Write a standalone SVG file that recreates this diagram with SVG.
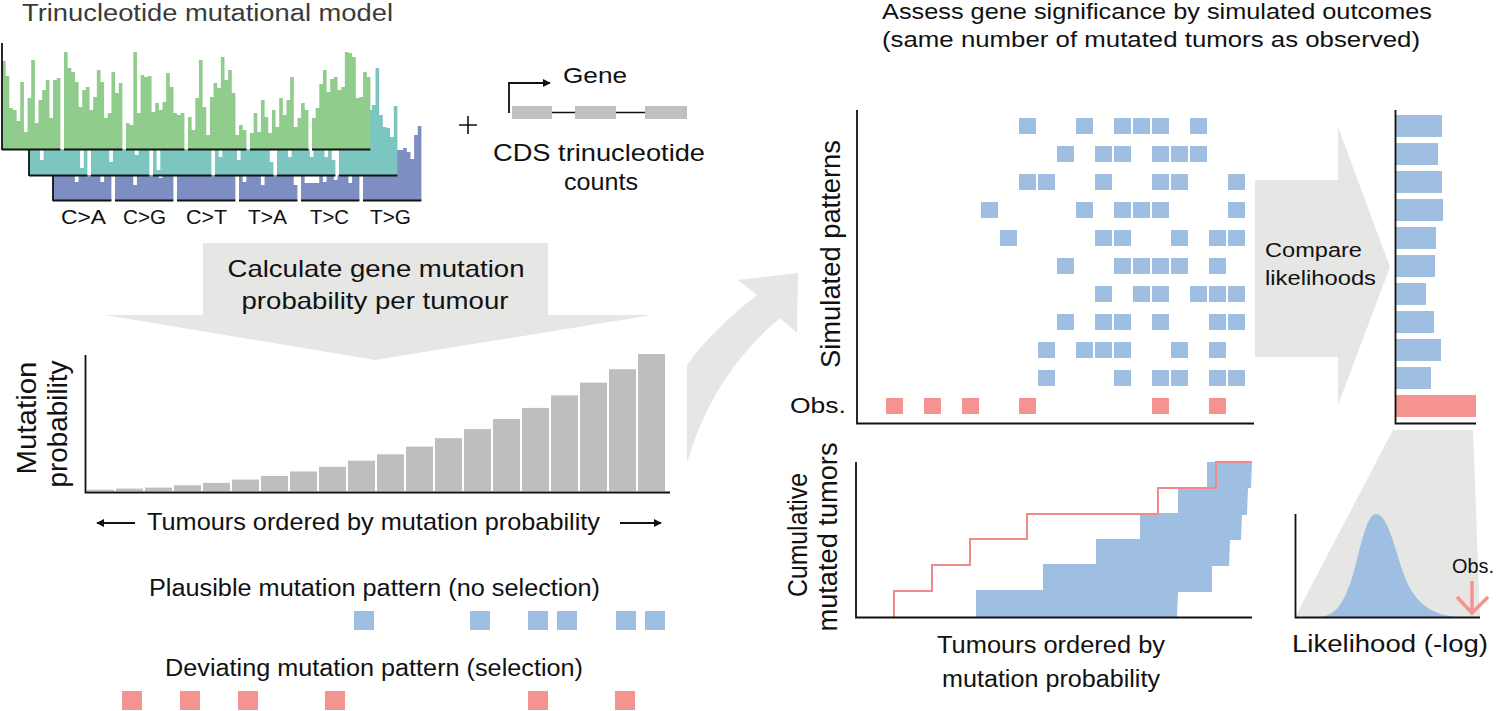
<svg xmlns="http://www.w3.org/2000/svg" width="1499" height="711" viewBox="0 0 1499 711">
<style>
.t{font-family:"Liberation Sans",Arial,sans-serif;fill:#111}
.ax{stroke:#111;stroke-width:1.8;fill:none}
.sim{fill:#9ebfe2}
.obs{fill:#f49390}
.gbar{fill:#bcbebf}
.arrowfill{fill:#e6e6e5}
</style>
<defs>
<marker id="ah" viewBox="0 0 10 10" refX="9" refY="5" markerWidth="8" markerHeight="8" markerUnits="userSpaceOnUse" orient="auto"><path d="M0,0 L10,5 L0,10 Z" fill="#111"/></marker>
</defs>
<rect width="1499" height="711" fill="#fff"/>

<g id="connectors">
<polygon class="arrowfill" points="203,243 548,243 548,315 652,315 375,360 105,315 203,315"/>
<path class="arrowfill" d="M687,463 L687,365 Q712,330 757,295 L738,280 L798,273 L797,333 L780,318 Q712,375 687,463 Z"/>
<polygon class="arrowfill" points="1255,180 1338,180 1338,127 1390,267 1338,405 1338,357 1255,357"/>
<polygon class="arrowfill" points="1393,430 1473,430 1480,617 1295,617"/>
</g>

<g id="trinucleotide-model">
<text class="t" x="22" y="21" font-size="23" textLength="371" lengthAdjust="spacingAndGlyphs" style="fill:#3a3a3a">Trinucleotide mutational model</text>
<path fill="#7d8fc2" d="M53,200.5 V175 h21.9 V182 h3.65 V175 h21.9 V182 h3.65 V175 h7.3 V200.5 h3.6 V175 h18.25 V185 h3.65 V175 h21.9 V178 h3.65 V175 h10.95 V200.5 h3.6 V175 h58.4 V200.5 h3.6 V175 h3.65 V182 h3.65 V175 h14.6 V185 h3.65 V175 h29.2 V185 h3.65 V200.5 h3.6 V175 h3.65 V183 h14.6 V175 h3.65 V182 h3.65 V175 h7.3 V180 h3.65 V175 h10.95 V183 h3.65 V175 h7.3 V200.5 h3.6 V175 h32.85 V150 h7.3 V148 h3.65 V152 h3.65 V159 h3.65 V135 h3.65 V126 h3.65 V200.5 Z"/>
<path fill="#7cc6c1" d="M29,175.5 V149 h10.95 V160 h3.65 V149 h36.5 V168 h3.65 V149 h3.65 V175.5 h3.6 V149 h18.25 V162 h3.65 V149 h21.9 V155 h3.65 V149 h10.95 V175.5 h3.6 V149 h3.65 V170 h3.65 V149 h51.1 V175.5 h3.6 V149 h3.65 V157 h3.65 V149 h14.6 V160 h3.65 V149 h29.2 V162 h3.65 V175.5 h3.6 V149 h10.95 V157 h3.65 V149 h18.25 V157 h3.65 V149 h10.95 V157 h3.65 V149 h3.65 V160 h3.65 V175.5 h3.6 V149 h29.2 V110 h3.65 V105 h3.65 V68 h3.65 V115 h3.65 V127 h3.65 V128 h3.65 V137 h3.65 V106 h3.65 V175.5 Z"/>
<path fill="#90cc8b" d="M2,149.5 V61 h3.65 V76 h3.65 V108 h3.65 V110 h3.65 V121 h3.65 V82 h3.65 V132 h3.65 V98 h3.65 V60 h3.65 V123 h3.65 V100 h3.65 V90 h3.65 V80 h3.65 V118 h3.65 V80 h3.65 V78 h3.65 V149.5 h3.6 V52 h3.65 V68 h3.65 V72 h3.65 V82 h3.65 V107 h3.65 V90 h3.65 V87 h3.65 V110 h3.65 V97 h3.65 V70 h3.65 V82 h3.65 V118 h3.65 V113 h3.65 V72 h3.65 V93 h3.65 V83 h3.65 V149.5 h3.6 V123 h3.65 V125 h3.65 V52 h3.65 V113 h3.65 V75 h3.65 V77 h3.65 V76 h3.65 V112 h3.65 V103 h3.65 V110 h3.65 V102 h3.65 V73 h3.65 V87 h3.65 V113 h3.65 V115 h3.65 V113 h3.65 V149.5 h3.6 V117 h3.65 V130 h3.65 V98 h3.65 V60 h3.65 V107 h3.65 V135 h3.65 V97 h3.65 V83 h3.65 V88 h3.65 V57 h3.65 V80 h3.65 V70 h3.65 V93 h3.65 V135 h3.65 V125 h3.65 V130 h3.65 V149.5 h3.6 V133 h3.65 V113 h3.65 V132 h3.65 V100 h3.65 V117 h3.65 V133 h3.65 V110 h3.65 V127 h3.65 V98 h3.65 V115 h3.65 V100 h3.65 V77 h3.65 V127 h3.65 V118 h3.65 V103 h3.65 V110 h3.65 V149.5 h3.6 V118 h3.65 V108 h3.65 V84 h3.65 V70 h3.65 V92 h3.65 V79 h3.65 V77 h3.65 V90 h3.65 V87 h3.65 V52 h3.65 V53 h3.65 V57 h3.65 V98 h3.65 V97 h3.65 V72 h3.65 V77 h3.65 V149.5 Z"/>
<path class="ax" d="M2,43 V150 M2,149.5 H60.4 M64,149.5 H122.4 M126,149.5 H184.4 M188,149.5 H246.4 M250,149.5 H308.4 M312,149.5 H370.4 M29,149 V176 M29,175.5 H87.4 M91,175.5 H149.4 M153,175.5 H211.4 M215,175.5 H273.4 M277,175.5 H335.4 M339,175.5 H397.4 M53,175 V201 M53,200.5 H111.4 M115,200.5 H173.4 M177,200.5 H235.4 M239,200.5 H297.4 M301,200.5 H359.4 M363,200.5 H421.4"/>
<g class="t" font-size="20.5">
<text x="61" y="224" textLength="45" lengthAdjust="spacingAndGlyphs">C&gt;A</text>
<text x="123" y="224" textLength="43" lengthAdjust="spacingAndGlyphs">C&gt;G</text>
<text x="186" y="224" textLength="41" lengthAdjust="spacingAndGlyphs">C&gt;T</text>
<text x="248" y="224" textLength="39" lengthAdjust="spacingAndGlyphs">T&gt;A</text>
<text x="310" y="224" textLength="39" lengthAdjust="spacingAndGlyphs">T&gt;C</text>
<text x="370" y="224" textLength="41" lengthAdjust="spacingAndGlyphs">T&gt;G</text>
</g>
</g>

<g id="gene">
<path d="M459,125 H477 M468,116 V134" stroke="#111" stroke-width="1.6"/>
<path d="M509,113 V83 H550" class="ax" stroke-width="1.6" marker-end="url(#ah)"/>
<text class="t" x="563" y="83" font-size="22" textLength="64" lengthAdjust="spacingAndGlyphs">Gene</text>
<path d="M552,112.5 H575 M616,112.5 H645" stroke="#111" stroke-width="1.5"/>
<rect x="512" y="106" width="40" height="13" fill="#c0c0c0"/>
<rect x="575" y="106" width="41" height="13" fill="#c0c0c0"/>
<rect x="645" y="106" width="42" height="13" fill="#c0c0c0"/>
<text class="t" x="493" y="161" font-size="24" textLength="212" lengthAdjust="spacingAndGlyphs">CDS trinucleotide</text>
<text class="t" x="601" y="190" font-size="24" text-anchor="middle" textLength="74" lengthAdjust="spacingAndGlyphs">counts</text>
</g>

<g id="calc-label">
<text class="t" x="376" y="277" font-size="24" text-anchor="middle" textLength="297" lengthAdjust="spacingAndGlyphs">Calculate gene mutation</text>
<text class="t" x="375" y="309" font-size="24" text-anchor="middle" textLength="267" lengthAdjust="spacingAndGlyphs">probability per tumour</text>
</g>

<g id="probability-chart">
<g class="gbar">
<rect x="87" y="489.7" width="27" height="1.3"/>
<rect x="116" y="488.6" width="27" height="2.4"/>
<rect x="145" y="487.6" width="27" height="3.4"/>
<rect x="174" y="485.3" width="27" height="5.7"/>
<rect x="203" y="482.9" width="27" height="8.1"/>
<rect x="232" y="479.6" width="27" height="11.4"/>
<rect x="261" y="475.9" width="27" height="15.1"/>
<rect x="290" y="471.5" width="27" height="19.5"/>
<rect x="319" y="466.8" width="27" height="24.2"/>
<rect x="348" y="460.7" width="27" height="30.3"/>
<rect x="377" y="454.3" width="27" height="36.7"/>
<rect x="406" y="446.6" width="27" height="44.4"/>
<rect x="435" y="438.2" width="27" height="52.8"/>
<rect x="464" y="429.1" width="27" height="61.9"/>
<rect x="493" y="419" width="27" height="72"/>
<rect x="522" y="407.9" width="27" height="83.1"/>
<rect x="551" y="395.4" width="27" height="95.6"/>
<rect x="580" y="382.6" width="27" height="108.4"/>
<rect x="609" y="369.2" width="27" height="121.8"/>
<rect x="638" y="354" width="27" height="137"/>
</g>
<path class="ax" d="M85.5,355 V492.5 H670"/>
<text class="t" font-size="28" text-anchor="middle" transform="translate(36,418) rotate(-90)" textLength="113" lengthAdjust="spacingAndGlyphs">Mutation</text>
<text class="t" font-size="27" text-anchor="middle" transform="translate(67,424) rotate(-90)" textLength="127" lengthAdjust="spacingAndGlyphs">probability</text>
<path d="M135,523 H97" class="ax" stroke-width="1.6" marker-end="url(#ah)"/>
<path d="M620,523 H661" class="ax" stroke-width="1.6" marker-end="url(#ah)"/>
<text class="t" x="147" y="530" font-size="24" textLength="453" lengthAdjust="spacingAndGlyphs">Tumours ordered by mutation probability</text>
</g>

<g id="plausible-pattern">
<text class="t" x="149" y="596" font-size="23" textLength="451" lengthAdjust="spacingAndGlyphs">Plausible mutation pattern (no selection)</text>
<g class="sim">
<rect x="354" y="611" width="20" height="19"/><rect x="470" y="611" width="20" height="19"/><rect x="528" y="611" width="20" height="19"/><rect x="557" y="611" width="20" height="19"/><rect x="616" y="611" width="20" height="19"/><rect x="645" y="611" width="20" height="19"/>
</g>
</g>

<g id="deviating-pattern">
<text class="t" x="165" y="676" font-size="23" textLength="418" lengthAdjust="spacingAndGlyphs">Deviating mutation pattern (selection)</text>
<g class="obs">
<rect x="122" y="691" width="20" height="19"/><rect x="180" y="691" width="20" height="19"/><rect x="238" y="691" width="20" height="19"/><rect x="325" y="691" width="20" height="19"/><rect x="528" y="691" width="20" height="19"/><rect x="615" y="691" width="20" height="19"/>
</g>
</g>

<g id="assess-title">
<text class="t" x="882" y="19" font-size="22" textLength="550" lengthAdjust="spacingAndGlyphs">Assess gene significance by simulated outcomes</text>
<text class="t" x="882" y="47" font-size="22" textLength="538" lengthAdjust="spacingAndGlyphs">(same number of mutated tumors as observed)</text>
</g>

<g id="simulated-patterns">
<path class="ax" d="M857,110 V423.5 H1254"/>
<text class="t" font-size="27" text-anchor="middle" transform="translate(840,254) rotate(-90)" textLength="228" lengthAdjust="spacingAndGlyphs">Simulated patterns</text>
<text class="t" x="846" y="413" font-size="22" text-anchor="end" textLength="56" lengthAdjust="spacingAndGlyphs">Obs.</text>
<g class="sim">
<rect x="1019" y="118" width="17" height="16"/><rect x="1076" y="118" width="17" height="16"/><rect x="1114" y="118" width="17" height="16"/><rect x="1133" y="118" width="17" height="16"/><rect x="1152" y="118" width="17" height="16"/><rect x="1190" y="118" width="17" height="16"/>
<rect x="1057" y="146" width="17" height="16"/><rect x="1095" y="146" width="17" height="16"/><rect x="1114" y="146" width="17" height="16"/><rect x="1152" y="146" width="17" height="16"/><rect x="1171" y="146" width="17" height="16"/><rect x="1190" y="146" width="17" height="16"/>
<rect x="1019" y="174" width="17" height="16"/><rect x="1038" y="174" width="17" height="16"/><rect x="1095" y="174" width="17" height="16"/><rect x="1152" y="174" width="17" height="16"/><rect x="1171" y="174" width="17" height="16"/><rect x="1228" y="174" width="17" height="16"/>
<rect x="981" y="202" width="17" height="16"/><rect x="1076" y="202" width="17" height="16"/><rect x="1114" y="202" width="17" height="16"/><rect x="1133" y="202" width="17" height="16"/><rect x="1152" y="202" width="17" height="16"/><rect x="1228" y="202" width="17" height="16"/>
<rect x="1000" y="230" width="17" height="16"/><rect x="1095" y="230" width="17" height="16"/><rect x="1114" y="230" width="17" height="16"/><rect x="1171" y="230" width="17" height="16"/><rect x="1209" y="230" width="17" height="16"/><rect x="1228" y="230" width="17" height="16"/>
<rect x="1057" y="258" width="17" height="16"/><rect x="1114" y="258" width="17" height="16"/><rect x="1133" y="258" width="17" height="16"/><rect x="1152" y="258" width="17" height="16"/><rect x="1171" y="258" width="17" height="16"/><rect x="1209" y="258" width="17" height="16"/>
<rect x="1095" y="286" width="17" height="16"/><rect x="1133" y="286" width="17" height="16"/><rect x="1152" y="286" width="17" height="16"/><rect x="1190" y="286" width="17" height="16"/><rect x="1209" y="286" width="17" height="16"/><rect x="1228" y="286" width="17" height="16"/>
<rect x="1057" y="314" width="17" height="16"/><rect x="1095" y="314" width="17" height="16"/><rect x="1114" y="314" width="17" height="16"/><rect x="1152" y="314" width="17" height="16"/><rect x="1209" y="314" width="17" height="16"/><rect x="1228" y="314" width="17" height="16"/>
<rect x="1038" y="342" width="17" height="16"/><rect x="1076" y="342" width="17" height="16"/><rect x="1095" y="342" width="17" height="16"/><rect x="1114" y="342" width="17" height="16"/><rect x="1171" y="342" width="17" height="16"/><rect x="1209" y="342" width="17" height="16"/>
<rect x="1038" y="370" width="17" height="16"/><rect x="1114" y="370" width="17" height="16"/><rect x="1152" y="370" width="17" height="16"/><rect x="1171" y="370" width="17" height="16"/><rect x="1209" y="370" width="17" height="16"/><rect x="1228" y="370" width="17" height="16"/>
</g>
<g class="obs">
<rect x="886" y="398" width="17" height="16"/><rect x="924" y="398" width="17" height="16"/><rect x="962" y="398" width="17" height="16"/><rect x="1019" y="398" width="17" height="16"/><rect x="1152" y="398" width="17" height="16"/><rect x="1209" y="398" width="17" height="16"/>
</g>
</g>

<g id="cumulative-chart">
<polygon class="sim" points="976,617 976,590 1043,590 1043,564 1096,564 1096,539 1140,539 1140,513 1178,513 1178,488 1207,488 1207,462 1252,462 1251,488 1248,488 1247,515 1242,515 1241,540 1230,540 1229,566 1212,566 1212,592 1178,592 1177,617"/>
<polyline points="894,617 894,591 932,591 932,565 970,565 970,539 1027,539 1027,514 1158,514 1158,488 1216,488 1216,462 1252,462" fill="none" stroke="#f08a87" stroke-width="2"/>
<path class="ax" d="M856,462 V617.5 H1252"/>
<text class="t" font-size="27" text-anchor="middle" transform="translate(807,535) rotate(-90)" textLength="124" lengthAdjust="spacingAndGlyphs">Cumulative</text>
<text class="t" font-size="27" text-anchor="middle" transform="translate(837,537) rotate(-90)" textLength="189" lengthAdjust="spacingAndGlyphs">mutated tumors</text>
<text class="t" x="1051" y="653" font-size="23" text-anchor="middle" textLength="228" lengthAdjust="spacingAndGlyphs">Tumours ordered by</text>
<text class="t" x="1051" y="687" font-size="23" text-anchor="middle" textLength="218" lengthAdjust="spacingAndGlyphs">mutation probability</text>
</g>

<g id="compare-label">
<text class="t" x="1265" y="257" font-size="20" textLength="97" lengthAdjust="spacingAndGlyphs">Compare</text>
<text class="t" x="1265" y="285" font-size="20" textLength="111" lengthAdjust="spacingAndGlyphs">likelihoods</text>
</g>

<g id="likelihood-bars">
<g class="sim">
<rect x="1396" y="115" width="46" height="22"/>
<rect x="1396" y="143" width="42" height="22"/>
<rect x="1396" y="171" width="46" height="22"/>
<rect x="1396" y="199" width="47" height="22"/>
<rect x="1396" y="227" width="40" height="22"/>
<rect x="1396" y="255" width="39" height="22"/>
<rect x="1396" y="283" width="30" height="22"/>
<rect x="1396" y="311" width="38" height="22"/>
<rect x="1396" y="339" width="45" height="22"/>
<rect x="1396" y="367" width="35" height="22"/>
</g>
<rect class="obs" x="1396" y="395" width="80" height="22"/>
<path class="ax" d="M1395.5,110 V423.5 H1476"/>
</g>

<g id="likelihood-distribution">
<path class="sim" d="M1318,617 C1336,617 1344,602 1352,578 C1361,548 1366,514 1376,514 C1387,514 1394,545 1403,572 C1412,598 1426,614 1456,617 Z"/>
<path class="ax" d="M1295.5,514 V617.5 H1480"/>
<text class="t" x="1452" y="573" font-size="20" textLength="42" lengthAdjust="spacingAndGlyphs">Obs.</text>
<path d="M1472,581 V613 M1457,597 L1472,613 L1488,597" fill="none" stroke="#f49390" stroke-width="3.5"/>
<text class="t" x="1292" y="652" font-size="23" textLength="196" lengthAdjust="spacingAndGlyphs">Likelihood (-log)</text>
</g>
</svg>
